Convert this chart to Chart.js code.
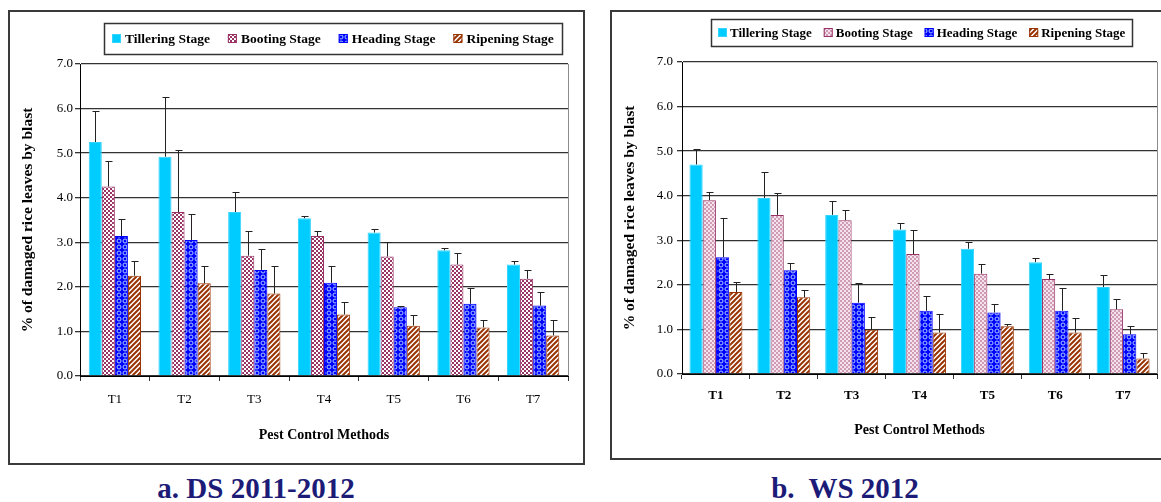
<!DOCTYPE html>
<html>
<head>
<meta charset="utf-8">
<title>Rice blast damage by pest control method</title>
<script src="https://cdn.jsdelivr.net/npm/chart.js@4.4.1/dist/chart.umd.min.js"></script>
<style>
  body {
    margin: 0;
    width: 1161px;
    height: 502px;
    background: #fff;
    position: relative;
    overflow: hidden;
    font-family: "Liberation Serif", serif;
  }
  .panel { position: absolute; }
  #dsWrap { left: 8px; top: 10px; width: 577px; height: 455px; }
  #wsWrap { left: 610px; top: 10px; width: 551px; height: 450px; }
  .caption {
    position: absolute;
    top: 472px;
    font: bold 29px "Liberation Serif", serif;
    color: #1c1c78;
    white-space: pre;
    transform: translateX(-50%);
  }
</style>
</head>
<body>
<div class="panel" id="dsWrap"><canvas id="dsChart"></canvas></div>
<div class="panel" id="wsWrap"><canvas id="wsChart"></canvas></div>
<div class="caption" style="left:256px">a. DS 2011-2012</div>
<div class="caption" style="left:845px">b.  WS 2012</div>

<script>
// Treatments and growth stages
const methods = ['T1', 'T2', 'T3', 'T4', 'T5', 'T6', 'T7'];
const stages = ['Tillering Stage', 'Booting Stage', 'Heading Stage', 'Ripening Stage'];
const yMin = 0;
const yMax = 7;
const yStep = 1;

// Dry season 2011-2012: mean % damaged leaves and standard error
const dsTillering = [5.25, 4.92, 3.68, 3.54, 3.22, 2.82, 2.50];
const dsBooting   = [4.25, 3.68, 2.70, 3.14, 2.68, 2.50, 2.18];
const dsHeading   = [3.14, 3.05, 2.38, 2.09, 1.54, 1.62, 1.58];
const dsRipening  = [2.25, 2.08, 1.85, 1.38, 1.13, 1.09, 0.91];
const dsTilleringSE = [0.70, 1.33, 0.45, 0.04, 0.07, 0.06, 0.09];
const dsBootingSE   = [0.58, 1.39, 0.55, 0.11, 0.32, 0.27, 0.20];
const dsHeadingSE   = [0.39, 0.59, 0.47, 0.38, 0.04, 0.35, 0.31];
const dsRipeningSE  = [0.34, 0.39, 0.62, 0.29, 0.23, 0.17, 0.34];

// Wet season 2012
const wsTillering = [4.70, 3.95, 3.57, 3.24, 2.81, 2.51, 1.95];
const wsBooting   = [3.90, 3.57, 3.45, 2.69, 2.25, 2.13, 1.45];
const wsHeading   = [2.62, 2.33, 1.60, 1.42, 1.38, 1.42, 0.89];
const wsRipening  = [1.84, 1.72, 0.99, 0.93, 1.07, 0.93, 0.35];
const wsTilleringSE = [0.35, 0.58, 0.32, 0.14, 0.15, 0.09, 0.26];
const wsBootingSE   = [0.18, 0.50, 0.23, 0.54, 0.21, 0.12, 0.24];
const wsHeadingSE   = [0.88, 0.16, 0.44, 0.33, 0.19, 0.51, 0.19];
const wsRipeningSE  = [0.23, 0.17, 0.30, 0.42, 0.06, 0.33, 0.13];

const FONT = '"Liberation Serif", serif';
Chart.defaults.font.family = FONT;
Chart.defaults.color = '#000';

// small repeating tiles for the hatched fills
function makePattern(size, paint) {
  const c = document.createElement('canvas');
  c.width = size;
  c.height = size;
  const g = c.getContext('2d');
  paint(g, size);
  return g.createPattern(c, 'repeat');
}

function checker(dark, light) {
  return makePattern(4, (g) => {
    g.fillStyle = light;
    g.fillRect(0, 0, 4, 4);
    g.fillStyle = dark;
    g.fillRect(0, 0, 2, 2);
    g.fillRect(2, 2, 2, 2);
  });
}

const circles = makePattern(6, (g) => {
  g.fillStyle = '#0000ff';
  g.fillRect(0, 0, 6, 6);
  g.strokeStyle = '#a8ccff';
  g.lineWidth = 1;
  g.beginPath();
  g.arc(3, 3, 2, 0, Math.PI * 2);
  g.stroke();
});

const stripes = makePattern(5, (g) => {
  g.fillStyle = '#fff';
  g.fillRect(0, 0, 5, 5);
  g.strokeStyle = '#993300';
  g.lineWidth = 2;
  g.beginPath();
  g.moveTo(-1, 6); g.lineTo(6, -1);
  g.moveTo(-1, 1); g.lineTo(1, -1);
  g.moveTo(4, 6); g.lineTo(6, 4);
  g.stroke();
});

// whole panel frame plus the thin right edge of the plot area
const panelFrame = {
  id: 'panelFrame',
  beforeDraw(chart) {
    const { ctx, width, height } = chart;
    ctx.save();
    ctx.fillStyle = '#fff';
    ctx.fillRect(0, 0, width, height);
    ctx.restore();
  },
  afterDraw(chart, args, opts) {
    const { ctx, width, height, chartArea } = chart;
    ctx.save();
    ctx.strokeStyle = '#8c8c8c';
    ctx.lineWidth = 1;
    ctx.beginPath();
    ctx.moveTo(chartArea.right + 0.5, chartArea.top);
    ctx.lineTo(chartArea.right + 0.5, chartArea.bottom);
    ctx.stroke();
    ctx.strokeStyle = '#3a3a3a';
    ctx.lineWidth = 2;
    ctx.strokeRect(1, 1, width - 2 + (opts.openRight ? 10 : 0), height - 2);
    ctx.restore();
  }
};

// one-sided error bars above every bar
const errorBars = {
  id: 'errorBars',
  afterDatasetsDraw(chart) {
    const { ctx } = chart;
    const yScale = chart.scales.y;
    ctx.save();
    ctx.strokeStyle = '#222';
    ctx.lineWidth = 1;
    chart.data.datasets.forEach((ds, i) => {
      const meta = chart.getDatasetMeta(i);
      meta.data.forEach((bar, j) => {
        const top = Math.round(yScale.getPixelForValue(ds.data[j] + ds.se[j])) + 0.5;
        const x = Math.round(bar.x) + 0.5;
        ctx.beginPath();
        ctx.moveTo(x, bar.y);
        ctx.lineTo(x, top);
        ctx.moveTo(x - 3, top);
        ctx.lineTo(x + 4, top);
        ctx.stroke();
      });
    });
    ctx.restore();
  }
};

// legend inside a bordered box
const boxLegend = {
  id: 'boxLegend',
  afterDraw(chart, args, o) {
    const { ctx } = chart;
    ctx.save();
    ctx.font = 'bold ' + o.fontSize + 'px ' + FONT;
    const items = chart.data.datasets.map(ds => ({
      text: ds.label,
      fill: ds.backgroundColor,
      stroke: ds.borderColor,
      w: ctx.measureText(ds.label).width
    }));
    const total = items.reduce((s, it) => s + o.swatch + o.swatchGap + it.w, 0)
      + o.itemGap * (items.length - 1) + o.pad * 2;
    const left = Math.round(o.centerX - total / 2);
    ctx.strokeStyle = '#333';
    ctx.lineWidth = 1.5;
    ctx.strokeRect(left + 0.5, o.top + 0.5, Math.round(total), o.height);
    const cy = o.top + o.height / 2;
    let x = left + o.pad;
    ctx.textBaseline = 'middle';
    items.forEach(it => {
      const sy = Math.round(cy - o.swatch / 2);
      ctx.fillStyle = it.fill;
      ctx.fillRect(x, sy, o.swatch, o.swatch);
      ctx.strokeStyle = it.stroke;
      ctx.lineWidth = 1;
      ctx.strokeRect(x + 0.5, sy + 0.5, o.swatch - 1, o.swatch - 1);
      x += o.swatch + o.swatchGap;
      ctx.fillStyle = '#000';
      ctx.fillText(it.text, x, cy + 1);
      x += it.w + o.itemGap;
    });
    ctx.restore();
  }
};

function buildChart(id, series, errors, look) {
  const fills = [look.tilleringFill, look.bootingFill, circles, stripes];
  const borders = ['#33d4ff', '#993366', '#0000ff', '#993300'];
  return new Chart(document.getElementById(id), {
    type: 'bar',
    data: {
      labels: methods,
      datasets: stages.map((name, i) => ({
        label: name,
        data: series[i],
        se: errors[i],
        backgroundColor: fills[i],
        borderColor: borders[i],
        borderWidth: 1,
        borderSkipped: 'bottom',
        categoryPercentage: look.groupWidth,
        barPercentage: 1
      }))
    },
    plugins: [panelFrame, errorBars, boxLegend],
    options: {
      responsive: true,
      maintainAspectRatio: false,
      animation: false,
      events: [],
      layout: { padding: { top: look.plotTop, right: look.padRight, left: 0, bottom: 0 } },
      plugins: {
        legend: { display: false },
        tooltip: { enabled: false },
        panelFrame: { openRight: look.openRight },
        boxLegend: look.legend
      },
      scales: {
        x: {
          grid: { drawOnChartArea: false, tickLength: 5, color: '#333', lineWidth: 1 },
          border: { color: '#000', width: 1 },
          ticks: {
            color: '#000',
            padding: look.xTickPad,
            font: { size: 13, weight: look.xTickWeight, family: FONT }
          },
          title: {
            display: true,
            text: 'Pest Control Methods',
            color: '#000',
            font: { size: 14, weight: 'bold', family: FONT, lineHeight: 1 },
            padding: { top: 0, bottom: 23 }
          },
          afterFit(s) { s.height = look.xHeight; }
        },
        y: {
          min: yMin,
          max: yMax,
          grid: { color: '#333', lineWidth: 1.3, tickLength: 5 },
          border: { color: '#000', width: 1 },
          ticks: {
            stepSize: yStep,
            color: '#000',
            padding: look.yTickPad,
            font: { size: 13, family: FONT },
            callback: v => v.toFixed(1)
          },
          title: {
            display: true,
            text: '% of damaged rice leaves by blast',
            color: '#000',
            font: { size: 15.5, weight: 'bold', family: FONT, lineHeight: 1 },
            padding: { top: 12, bottom: 0 }
          },
          afterFit(s) { s.width = 72; }
        }
      }
    }
  });
}

buildChart('dsChart',
  [dsTillering, dsBooting, dsHeading, dsRipening],
  [dsTilleringSE, dsBootingSE, dsHeadingSE, dsRipeningSE],
  {
    tilleringFill: '#00ccff',
    bootingFill: checker('#993366', '#ffffff'),
    groupWidth: 0.75,
    plotTop: 54,
    padRight: 17,
    xHeight: 89,
    xTickPad: 11,
    xTickWeight: 'normal',
    yTickPad: 2,
    openRight: false,
    legend: { centerX: 325, top: 13, height: 31, fontSize: 13.5, swatch: 9, swatchGap: 4, itemGap: 18, pad: 8 }
  });

buildChart('wsChart',
  [wsTillering, wsBooting, wsHeading, wsRipening],
  [wsTilleringSE, wsBootingSE, wsHeadingSE, wsRipeningSE],
  {
    tilleringFill: '#00ccff',
    bootingFill: checker('#cf9bb5', '#f4e2ec'),
    groupWidth: 0.78,
    plotTop: 52,
    padRight: 4,
    xHeight: 86,
    xTickPad: 9,
    xTickWeight: 'bold',
    yTickPad: 4,
    openRight: true,
    legend: { centerX: 312, top: 9, height: 27, fontSize: 13, swatch: 9, swatchGap: 3, itemGap: 12, pad: 7 }
  });
</script>
</body>
</html>
